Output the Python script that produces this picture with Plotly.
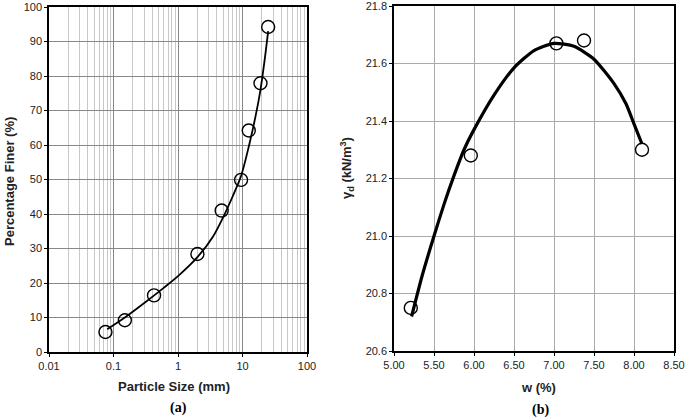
import plotly.graph_objects as go

# ---- (a) grain size distribution ----
sieve_mm = [0.075, 0.15, 0.425, 2.0, 4.75, 9.5, 12.5, 19, 25]
pct_finer = [5.8, 9.2, 16.4, 28.4, 41.0, 49.9, 64.2, 77.9, 94.2]
curve_a_x = [0.08, 0.15, 0.3, 0.6, 1.0, 2.0, 3.5, 5.0, 7.0, 9.5, 12.5, 16, 19, 22, 25]
curve_a_y = [6.6, 10.0, 14.2, 18.6, 22.0, 27.5, 33.5, 39.0, 45.0, 51.0, 59.5, 68.5, 76.0, 84.5, 93.0]

# ---- (b) compaction curve ----
w_pct = [5.21, 5.96, 7.03, 7.375, 8.10]
gamma_d = [20.75, 21.28, 21.67, 21.68, 21.30]
curve_b_x = [5.22, 5.35, 5.5, 5.625, 5.75, 5.875, 6.0, 6.25, 6.5, 6.75, 7.0, 7.25, 7.5, 7.75, 7.9, 8.0, 8.1]
curve_b_y = [20.72, 20.86, 21.0, 21.11, 21.21, 21.30, 21.37, 21.49, 21.585, 21.645, 21.67, 21.66, 21.615, 21.53, 21.46, 21.39, 21.32]

xa_ticks = [0.01, 0.1, 1, 10, 100]
xa_ticklabels = ["0.01", "0.1", "1", "10", "100"]
ya_ticks = list(range(0, 101, 10))
xb_ticks = [5.0, 5.5, 6.0, 6.5, 7.0, 7.5, 8.0, 8.5]
yb_ticks = [20.6, 20.8, 21.0, 21.2, 21.4, 21.6, 21.8]

W, H = 685, 419
def px(x): return x / W
def py(y): return 1 - y / H

minor_a = [m * 10.0 ** e for e in range(-2, 2) for m in range(2, 10)]

fig = go.Figure()
fig.add_trace(go.Scatter(x=curve_a_x, y=curve_a_y, mode="lines",
                         line=dict(color="black", width=1.8, shape="spline", smoothing=0.8),
                         xaxis="x", yaxis="y", showlegend=False, hoverinfo="skip"))
fig.add_trace(go.Scatter(x=sieve_mm, y=pct_finer, mode="markers",
                         marker=dict(symbol="circle-open", size=13, color="black", line=dict(width=1.4)),
                         xaxis="x", yaxis="y", showlegend=False))
fig.add_trace(go.Scatter(x=curve_b_x, y=curve_b_y, mode="lines",
                         line=dict(color="black", width=3.2, shape="spline", smoothing=0.6),
                         xaxis="x2", yaxis="y2", showlegend=False, hoverinfo="skip"))
fig.add_trace(go.Scatter(x=w_pct, y=gamma_d, mode="markers",
                         marker=dict(symbol="circle-open", size=13, color="black", line=dict(width=1.4)),
                         xaxis="x2", yaxis="y2", showlegend=False))

tickfont = dict(family="Liberation Sans, Arial", size=11, color="#222")
common = dict(showline=True, linecolor="black", linewidth=1.5, mirror=True, ticks="outside",
              ticklen=3, tickcolor="black", tickfont=tickfont, zeroline=False, automargin=False,
              ticklabeloverflow="allow")

def note(text, x, y, size=13, family="Liberation Sans, Arial", angle=0, color="#222"):
    return dict(text=text, x=px(x), y=py(y), xref="paper", yref="paper", showarrow=False,
                xanchor="center", yanchor="middle", textangle=angle,
                font=dict(family=family, size=size, color=color))

fig.update_layout(
    width=W, height=H, margin=dict(l=0, r=0, t=0, b=0, pad=0),
    paper_bgcolor="white", plot_bgcolor="white",
    xaxis=dict(domain=[px(49), px(307)], type="log", range=[-2, 2], tickvals=xa_ticks, ticktext=xa_ticklabels,
               showgrid=True, gridcolor="#888", gridwidth=1,
               minor=dict(tickvals=minor_a, showgrid=True, gridcolor="#c8c8c8", gridwidth=1, ticks=""),
               anchor="y", **common),
    yaxis=dict(domain=[py(352), py(7)], range=[0, 100], tickvals=ya_ticks, showgrid=True, gridcolor="#888",
               gridwidth=1, anchor="x", **common),
    xaxis2=dict(domain=[px(394), px(674)], range=[5.0, 8.5], tickvals=xb_ticks, tickformat=".2f",
                showgrid=True, gridcolor="#aaa", gridwidth=1, anchor="y2", **common),
    yaxis2=dict(domain=[py(351), py(6)], range=[20.6, 21.8], tickvals=yb_ticks, tickformat=".1f",
                showgrid=True, gridcolor="#aaa", gridwidth=1, anchor="x2", **common),
    annotations=[
        note("<b>Particle Size (mm)</b>", 174, 386),
        note("<b>(a)</b>", 178, 408, size=14, family="Liberation Serif, Times New Roman", color="black"),
        note("<b>Percentage Finer (%)</b>", 9, 182, angle=-90),
        note("<b>w (%)</b>", 538, 387),
        note("<b>(b)</b>", 540, 410, size=14, family="Liberation Serif, Times New Roman", color="black"),
        note("<b>γ<sub>d</sub> (kN/m<sup>3</sup>)</b>", 347, 168, angle=-90),
    ],
)

fig.write_html("out.html", config={"displayModeBar": False},
               post_script="document.body.style.margin='0';document.body.style.overflow='hidden';")
